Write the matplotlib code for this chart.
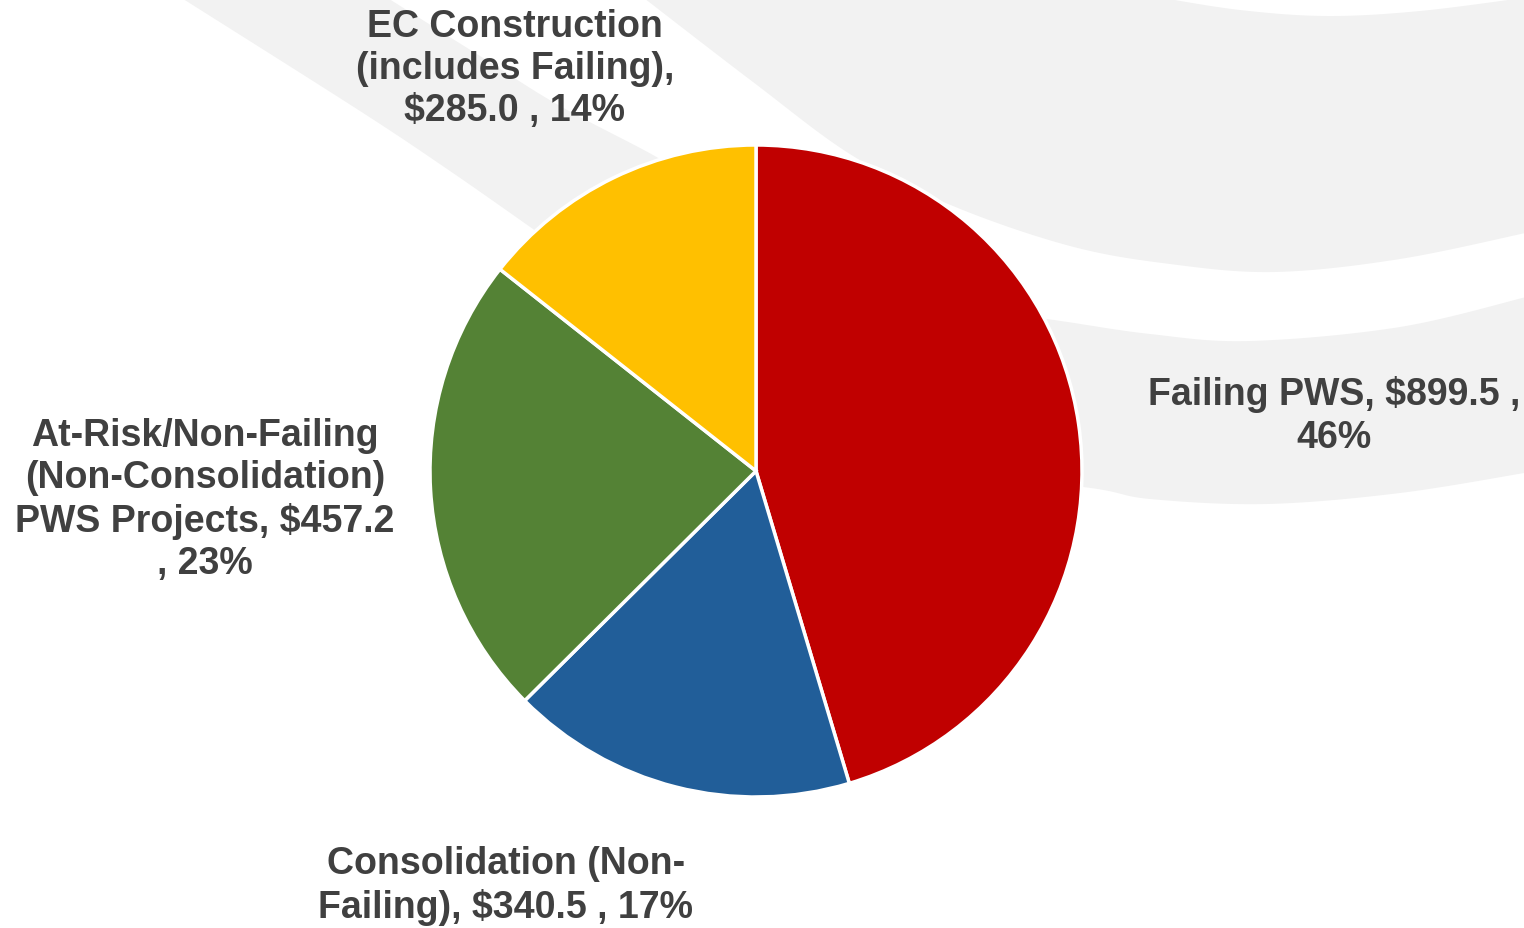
import numpy as np
import matplotlib
matplotlib.use("Agg")
import matplotlib.pyplot as plt
from matplotlib.patches import Polygon

# ---- data ----
categories = ["Failing PWS", "Consolidation (Non-Failing)",
              "At-Risk/Non-Failing (Non-Consolidation) PWS Projects",
              "EC Construction (includes Failing)"]
values = [899.5, 340.5, 457.2, 285.0]
percents = [46, 17, 23, 14]
label_texts = [
    "Failing PWS, $899.5 ,\n46%",
    "Consolidation (Non-\nFailing), $340.5 , 17%",
    "At-Risk/Non-Failing\n(Non-Consolidation)\nPWS Projects, $457.2\n, 23%",
    "EC Construction\n(includes Failing),\n$285.0 , 14%",
]
colors = ["#C00000", "#215E99", "#548235", "#FFC000"]

W, H = 1524, 929
fig = plt.figure(figsize=(W / 100, H / 100), dpi=100)
ax = fig.add_axes([0, 0, 1, 1])

def cr(pts, n=24):
    """Catmull-Rom spline through pixel points (y from top)."""
    p = np.array(pts, float)
    p = np.vstack([p[0], p, p[-1]])
    out = []
    for i in range(1, len(p) - 2):
        p0, p1, p2, p3 = p[i - 1], p[i], p[i + 1], p[i + 2]
        for t in np.linspace(0, 1, n, endpoint=False):
            t2, t3 = t * t, t * t * t
            out.append(0.5 * ((2 * p1) + (-p0 + p2) * t +
                              (2 * p0 - 5 * p1 + 4 * p2 - p3) * t2 +
                              (-p0 + 3 * p1 - 3 * p2 + p3) * t3))
    out.append(p[-2])
    return np.array(out)

def to_data(arr):
    arr = np.array(arr, float)
    return np.column_stack([arr[:, 0], H - arr[:, 1]])

bg = "#F2F2F2"
# shape A (top-right swoosh)
a_low = cr([(640, -4), (753, 83), (853, 157), (953, 207), (1070, 247),
            (1170, 265), (1275, 273), (1400, 260), (1530, 233)])
a_cap = cr([(1530, -2), (1420, 12), (1327, 17), (1240, 11), (1157, -2)])
shapeA = np.vstack([a_low, [(1530, -2)], a_cap, [(640, -4)]])
ax.add_patch(Polygon(to_data(shapeA), closed=True, fc=bg, ec="none", zorder=0))

# shape B (top-left diagonal band going behind pie)
b_left = cr([(180, -2), (360, 112), (450, 172), (533, 230)])
b_right = cr([(700, 190), (660, 160), (560, 107), (480, 57), (386, -2)])
shapeB = np.vstack([b_left, [(650, 330)], b_right])
ax.add_patch(Polygon(to_data(shapeB), closed=True, fc=bg, ec="none", zorder=0))

# shape C (right band behind the Failing label)
c_up = cr([(900, 300), (1047, 320), (1150, 335), (1250, 342), (1400, 328), (1530, 297)])
c_low = cr([(1530, 473), (1400, 494), (1267, 505), (1150, 500), (1083, 488), (900, 470)])
shapeC = np.vstack([c_up, c_low])
ax.add_patch(Polygon(to_data(shapeC), closed=True, fc=bg, ec="none", zorder=0))

# ---- pie ----
cx, cy, r = 756, 472, 326
ax.pie(values, colors=colors, startangle=90, counterclock=False,
       center=(cx, H - cy), radius=r,
       wedgeprops=dict(edgecolor="white", linewidth=2.5), frame=False)

label_pos = [(1334, 416), (506, 886), (205, 500), (515, 69)]
for txt, (x, y) in zip(label_texts, label_pos):
    ax.text(x, H - y, txt, ha="center", va="center", multialignment="center",
            fontsize=27, fontweight="bold", family="Liberation Sans",
            color="#404040", linespacing=1.22, zorder=5)

ax.set_xlim(0, W)
ax.set_ylim(0, H)
ax.set_aspect("equal", adjustable="box")
ax.axis("off")
fig.savefig("out.png", dpi=100, facecolor="white")
